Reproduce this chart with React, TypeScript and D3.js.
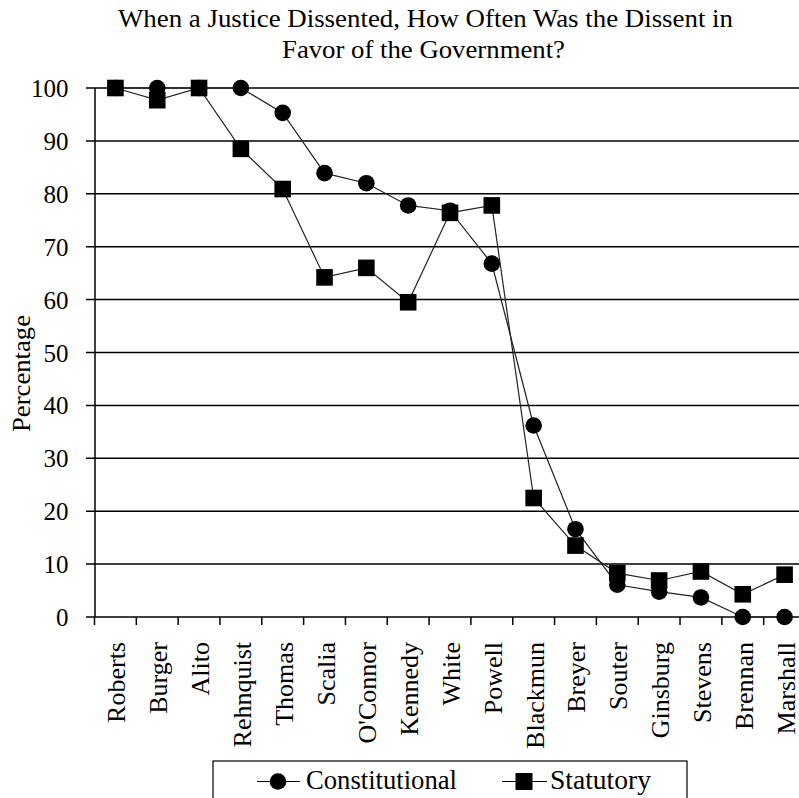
import * as d3 from 'd3';

const justices = [
  'Roberts', 'Burger', 'Alito', 'Rehnquist', 'Thomas', 'Scalia', "O'Connor", 'Kennedy',
  'White', 'Powell', 'Blackmun', 'Breyer', 'Souter', 'Ginsburg', 'Stevens', 'Brennan', 'Marshall',
];
const constitutional = [100, 100, 100, 100, 95.3, 83.9, 82.0, 77.8, 76.8, 66.8, 36.2, 16.6, 6.1, 4.8, 3.7, 0, 0];
const statutory = [100, 97.7, 100, 88.5, 80.9, 64.2, 66.0, 59.5, 76.4, 77.8, 22.5, 13.5, 8.3, 6.9, 8.6, 4.3, 8.0];
const yTicks = [0, 10, 20, 30, 40, 50, 60, 70, 80, 90, 100];

const W = 799;
const H = 798;
const font = '"Liberation Serif", "Times New Roman", serif';

export default function App() {
  const x = d3.scaleBand<string>().domain(justices).range([94.5, 805.5]);
  const y = d3.scaleLinear().domain([0, 100]).range([617, 88]);
  const cx = (j: string) => (x(j) ?? 0) + x.bandwidth() / 2;

  const line = d3.line<number>()
    .x((_, i) => cx(justices[i]))
    .y(d => y(d));

  const boundaries = justices.map(j => x(j) ?? 0).concat([x.range()[1]]);

  return (
    <svg width={W} height={H} style={{ position: 'fixed', left: 0, top: 0, background: '#fff' }}
      fontFamily={font}>
      <text x={425.5} y={27} textAnchor="middle" fontSize={26} textLength={615} lengthAdjust="spacingAndGlyphs">
        When a Justice Dissented, How Often Was the Dissent in
      </text>
      <text x={423.5} y={57.5} textAnchor="middle" fontSize={26} textLength={283} lengthAdjust="spacingAndGlyphs">
        Favor of the Government?
      </text>

      {/* grid + y ticks */}
      {yTicks.map(t => (
        <g key={t}>
          <line x1={86} x2={W} y1={y(t)} y2={y(t)} stroke="#000" strokeWidth={1.5} />
          <text x={68.5} y={y(t) + 9} textAnchor="end" fontSize={25}>{t}</text>
        </g>
      ))}
      <line x1={95} x2={95} y1={y(100)} y2={y(0)} stroke="#000" strokeWidth={1.5} />

      {/* x ticks */}
      {boundaries.map((b, i) => (
        <line key={i} x1={b} x2={b} y1={y(0)} y2={y(0) + 8} stroke="#000" strokeWidth={1.5} />
      ))}
      {justices.map(j => (
        <text key={j} transform={`translate(${cx(j) + 10},642) rotate(-90)`} textAnchor="end" fontSize={26}>
          {j}
        </text>
      ))}

      <text transform="translate(30,373.5) rotate(-90)" textAnchor="middle" fontSize={25}
        textLength={117} lengthAdjust="spacingAndGlyphs">Percentage</text>

      {/* series */}
      <path d={line(constitutional) ?? ''} fill="none" stroke="#222" strokeWidth={1.2} />
      <path d={line(statutory) ?? ''} fill="none" stroke="#222" strokeWidth={1.2} />
      {constitutional.map((v, i) => (
        <circle key={'c' + i} cx={cx(justices[i])} cy={y(v)} r={8.3} fill="#000" />
      ))}
      {statutory.map((v, i) => (
        <rect key={'s' + i} x={cx(justices[i]) - 8.3} y={y(v) - 8.3} width={16.6} height={16.6} fill="#000" />
      ))}

      {/* legend */}
      <rect x={213} y={761} width={474} height={60} fill="#fff" stroke="#000" strokeWidth={1.2} />
      <line x1={257} x2={300} y1={781.5} y2={781.5} stroke="#000" strokeWidth={1.2} />
      <circle cx={278} cy={781.5} r={8.3} fill="#000" />
      <text x={306} y={789} fontSize={27} textLength={151} lengthAdjust="spacingAndGlyphs">Constitutional</text>
      <line x1={502} x2={547} y1={781.5} y2={781.5} stroke="#000" strokeWidth={1.2} />
      <rect x={515.5} y={773} width={17} height={17} fill="#000" />
      <text x={550} y={789} fontSize={27} textLength={101} lengthAdjust="spacingAndGlyphs">Statutory</text>
    </svg>
  );
}
